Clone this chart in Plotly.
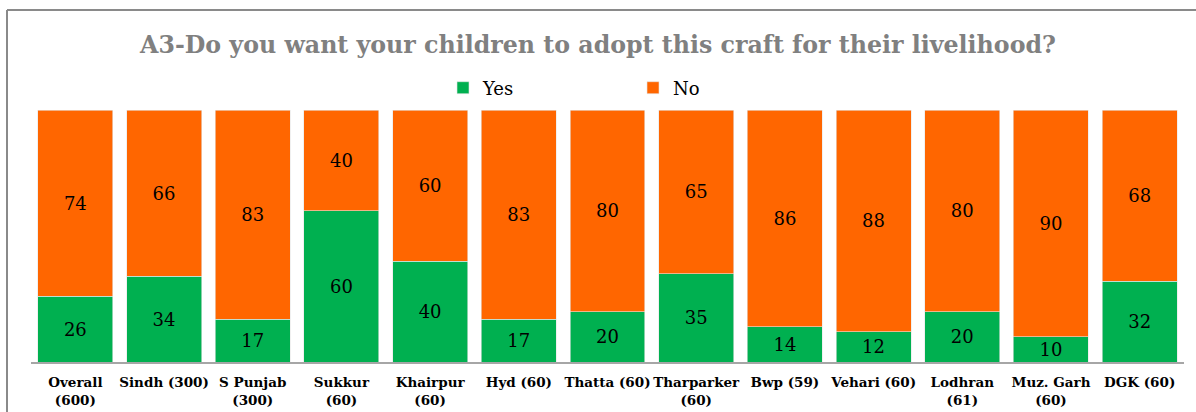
import plotly.graph_objects as go

categories = [
    "Overall<br>(600)", "Sindh (300)", "S Punjab<br>(300)", "Sukkur<br>(60)",
    "Khairpur<br>(60)", "Hyd (60)", "Thatta (60)", "Tharparker<br>(60)",
    "Bwp (59)", "Vehari (60)", "Lodhran<br>(61)", "Muz. Garh<br>(60)", "DGK (60)",
]
yes_values = [26, 34, 17, 60, 40, 17, 20, 35, 14, 12, 20, 10, 32]
no_values = [74, 66, 83, 40, 60, 83, 80, 65, 86, 88, 80, 90, 68]

GREEN = "#00B050"
ORANGE = "#FF6600"
SERIF = "DejaVu Serif, Liberation Serif, serif"

W, H = 1196, 412
ML, MR, MT, MB = 31, 12, 110, 50

fig = go.Figure()
for name, vals, col in [("Yes", yes_values, GREEN), ("No", no_values, ORANGE)]:
    fig.add_trace(go.Bar(
        x=categories, y=vals, name=name,
        marker=dict(color=col, line=dict(color="#e6e6e6", width=0.6)),
        text=vals, textposition="inside", insidetextanchor="middle",
        textangle=0, constraintext="none",
        textfont=dict(family=SERIF, size=18, color="black"),
    ))

# outer chart frame (left and top edges visible)
pw = W - ML - MR
ph = H - MT - MB
def px_x(p):
    return (p - ML) / pw
def px_y(p):
    return (H - MB - p) / ph

fig.add_shape(type="line", xref="paper", yref="paper",
              x0=px_x(7), x1=px_x(W + 5), y0=px_y(10), y1=px_y(10),
              line=dict(color="#8a8a8a", width=2))
fig.add_shape(type="line", xref="paper", yref="paper",
              x0=px_x(7), x1=px_x(7), y0=px_y(10), y1=px_y(H + 5),
              line=dict(color="#8a8a8a", width=2))

fig.update_layout(
    width=W, height=H,
    barmode="stack", bargap=0.155,
    margin=dict(l=ML, r=MR, t=MT, b=MB, autoexpand=False),
    paper_bgcolor="white", plot_bgcolor="white",
    title=dict(
        text="<b>A3-Do you want your children to adopt this craft for their livelihood?</b>",
        x=0.5, xanchor="center", y=1 - 45 / H, yanchor="middle",
        font=dict(family=SERIF, size=23.7, color="#808080"),
    ),
    legend=dict(
        orientation="h", x=px_x(443), xanchor="left", y=px_y(88), yanchor="middle",
        font=dict(family=SERIF, size=18, color="black"),
        itemwidth=30, tracegroupgap=0, entrywidth=145,
        traceorder="normal",
    ),
    showlegend=True,
    xaxis=dict(
        showline=True, linecolor="#a6a6a6", linewidth=1.5,
        tickfont=dict(family=SERIF, size=13.5, color="black", weight="bold"),
        tickangle=0, ticks="", showgrid=False, ticklabelstandoff=7,
    ),
    yaxis=dict(range=[0, 100], visible=False, showgrid=False),
)

fig.write_html("out.html")
